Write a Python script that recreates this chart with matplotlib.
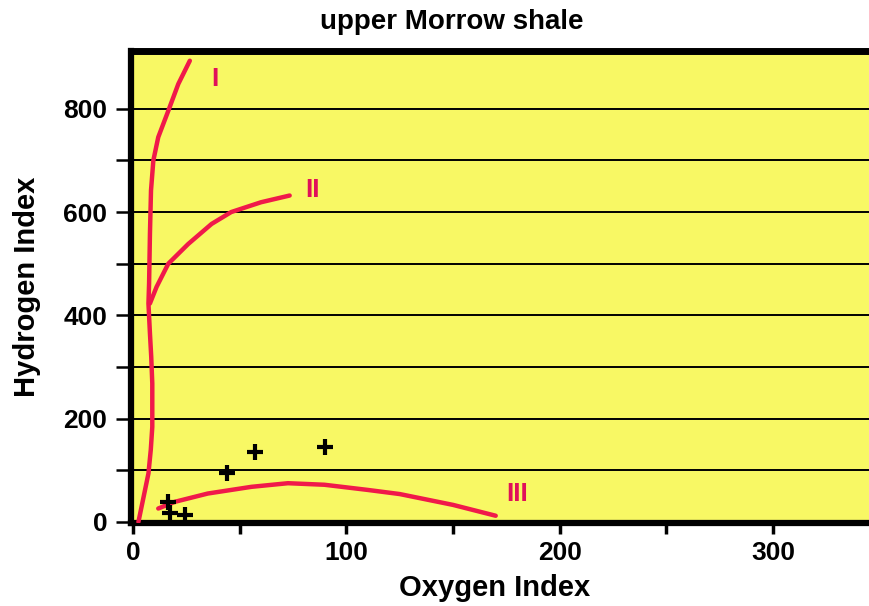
import matplotlib
matplotlib.use("Agg")
import matplotlib.pyplot as plt
from matplotlib.ticker import FixedLocator

# Data
type1_x = [2.5, 5, 7.2, 8.3, 9, 9, 8.5, 7.9, 7.2, 7.5, 7.9, 8.4, 9.5, 11.8, 16.5, 21.2, 26.6]
type1_y = [0, 50, 94, 140, 184, 268, 320, 365, 423, 462, 558, 642, 700, 745, 796, 848, 893]
type2_x = [7.9, 11, 16.5, 25.8, 36.8, 46, 60, 73.4]
type2_y = [423, 455, 500, 538, 577, 600, 619, 632]
type3_x = [11.8, 19.6, 35, 55.5, 72.6, 89.7, 110, 125, 150, 170]
type3_y = [26, 39, 55, 68, 75, 72, 62, 54, 33, 12]
sample_oi = [16.2, 17.3, 24.3, 43.8, 57, 90]
sample_hi = [39, 17, 13, 94, 136, 146]
curve_labels = ["I", "II", "III"]
label_x = [38.3, 84, 180]
label_y = [858, 642, 54]

FONT = "Liberation Sans"

fig = plt.figure(figsize=(8.69, 6.06), dpi=100)
ax = fig.add_axes([0.1507, 0.137, 0.8493, 0.779])
ax.set_facecolor("#F8F864")
ax.set_xlim(-1, 345)
ax.set_ylim(-2, 912)

# horizontal gridlines
for yv in range(100, 900, 100):
    ax.axhline(yv, color="black", lw=1.4, zorder=1)

red = "#F0194A"
for xs, ys in [(type1_x, type1_y), (type2_x, type2_y), (type3_x, type3_y)]:
    ax.plot(xs, ys, color=red, lw=3.2, zorder=3,
            solid_capstyle="round", solid_joinstyle="round")
ax.plot(sample_oi, sample_hi, linestyle="none", marker="+", color="black",
        markersize=12, mew=3, zorder=4)

for t, lx, ly in zip(curve_labels, label_x, label_y):
    ax.text(lx, ly, t, color="#E0105A", fontsize=19, fontweight="bold",
            ha="center", va="center", family=FONT, zorder=5)

for side in ["left", "bottom"]:
    ax.spines[side].set_linewidth(4.5)
ax.spines["top"].set_linewidth(5)
ax.spines["right"].set_visible(False)

ax.xaxis.set_major_locator(FixedLocator([0, 100, 200, 300]))
ax.xaxis.set_minor_locator(FixedLocator([50, 150, 250]))
ax.yaxis.set_major_locator(FixedLocator([0, 200, 400, 600, 800]))
ax.yaxis.set_minor_locator(FixedLocator([100, 300, 500, 700]))
ax.tick_params(axis="x", which="both", direction="out", length=8, width=2.5, pad=5)
ax.tick_params(axis="y", which="both", direction="out", length=11, width=1.8, pad=6)
ax.set_xticklabels(["0", "100", "200", "300"])
ax.set_yticklabels(["0", "200", "400", "600", "800"])
for lab in ax.get_xticklabels() + ax.get_yticklabels():
    lab.set_fontsize(19)
    lab.set_fontweight("bold")
    lab.set_family(FONT)

fig.text(452 / 869, 1 - 22 / 606, "upper Morrow shale", ha="center", va="center",
         fontsize=20, fontweight="bold", family=FONT)
fig.text(495 / 869, 1 - 588 / 606, "Oxygen Index", ha="center", va="center",
         fontsize=21, fontweight="bold", family=FONT)
fig.text(27 / 869, 1 - 287 / 606, "Hydrogen Index", ha="center", va="center",
         rotation=90, fontsize=21, fontweight="bold", family=FONT)

fig.savefig("out.png", dpi=100)
